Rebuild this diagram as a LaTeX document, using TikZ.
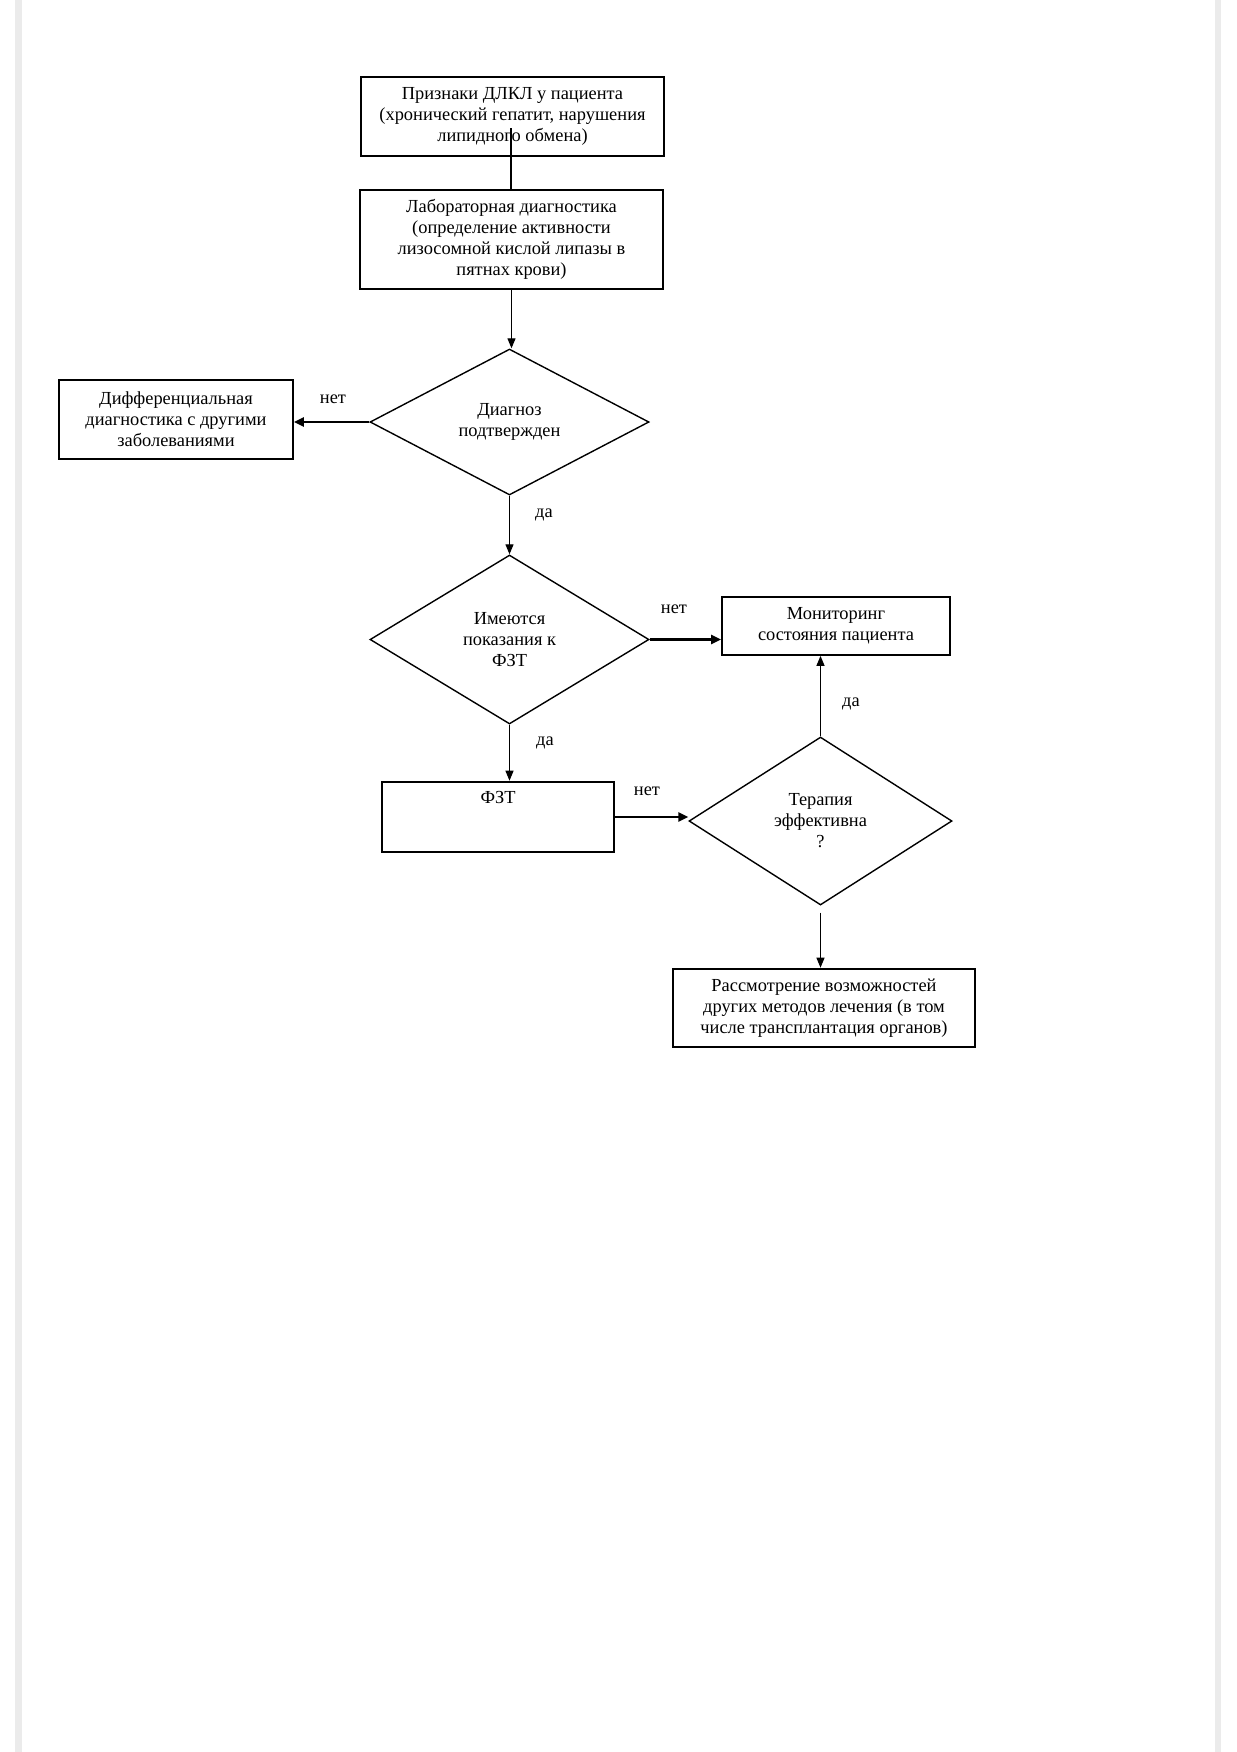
\documentclass[tikz,border=0pt]{standalone}
\usepackage{fontspec}
\setmainfont{Liberation Serif}
\usetikzlibrary{shapes.geometric,arrows.meta,calc}
\begin{document}
\begin{tikzpicture}[x=0.5pt,y=-0.5pt,
  every node/.style={font=\fontsize{9.2pt}{10.5pt}\selectfont, align=center, inner sep=0pt},
  box/.style={draw, line width=0.85pt, rectangle},
  tbox/.style={draw, line width=1.3pt, rectangle},
  dia/.style={draw, diamond, line width=0.7pt},
  conn/.style={line width=0.6pt},
  arr/.style={-{Triangle[length=5pt,width=4pt]}, line width=0.6pt},
  harr/.style={-{Triangle[length=5pt,width=4.5pt]}, line width=1.2pt}
]
\useasboundingbox (0,0) rectangle (1237,1752);
\fill[white] (0,0) rectangle (1237,1752);
\fill[black!8] (15,0) rectangle (22,1752);
\fill[black!8] (1215,0) rectangle (1221,1752);

\node[box, minimum width=151.5pt, minimum height=39.5pt] (b1) at (512.5,116.5)
  {Признаки ДЛКЛ у пациента\\(хронический гепатит, нарушения\\липидного обмена)};
\node[tbox, minimum width=151.5pt, minimum height=49.5pt] (b2) at (511.5,239.5)
  {Лабораторная диагностика\\(определение активности\\лизосомной кислой липазы в\\пятнах крови)};
\node[box, minimum width=117pt, minimum height=39.5pt] (diff) at (176,419.5)
  {Дифференциальная\\диагностика с другими\\заболеваниями};
\node[dia, minimum width=139.5pt, minimum height=73pt] (d1) at (509.5,422)
  {Диагноз\\подтвержден};
\node[dia, minimum width=139.5pt, minimum height=84.5pt] (d2) at (509.5,639.5)
  {Имеются\\показания к\\ФЗТ};
\node[box, minimum width=114pt, minimum height=29pt] (mon) at (836,626)
  {Мониторинг\\состояния пациента};
\node[tbox, minimum width=116pt, minimum height=35pt,
  label={[anchor=north, yshift=-5pt]north:ФЗТ}] (fzt) at (498,817) {};
\node[dia, minimum width=131.5pt, minimum height=84pt] (d3) at (820.5,821)
  {Терапия\\эффективна\\?};
\node[tbox, minimum width=151pt, minimum height=39pt] (rs) at (824,1008)
  {Рассмотрение возможностей\\других методов лечения (в том\\числе трансплантация органов)};

\coordinate (s1) at (511,128);
\draw[conn] (s1) -- (s1 |- b2.north);
\draw[arr] (b2.south) -- (b2.south |- d1.north);
\draw[harr] (d1.west) -- (d1.west -| diff.east);
\draw[arr] (d1.south) -- (d2.north);
\draw[harr] (d2.east) -- (d2.east -| mon.west);
\draw[arr] (d2.south) -- (d2.south |- fzt.north);
\draw[harr] (fzt.east) -- (fzt.east -| d3.west);
\draw[arr] (d3.north) -- (d3.north |- mon.south);
\draw[arr, shorten <=3.5pt] (d3.south) -- (d3.south |- rs.north);

\node (n1) at (333,399) {нет};
\node (y1) at (544,515) {да};
\node (n2) at (674,609) {нет};
\node (y2) at (545,743) {да};
\node (n3) at (647,791) {нет};
\node (y3) at (851,704) {да};
\end{tikzpicture}
\end{document}
